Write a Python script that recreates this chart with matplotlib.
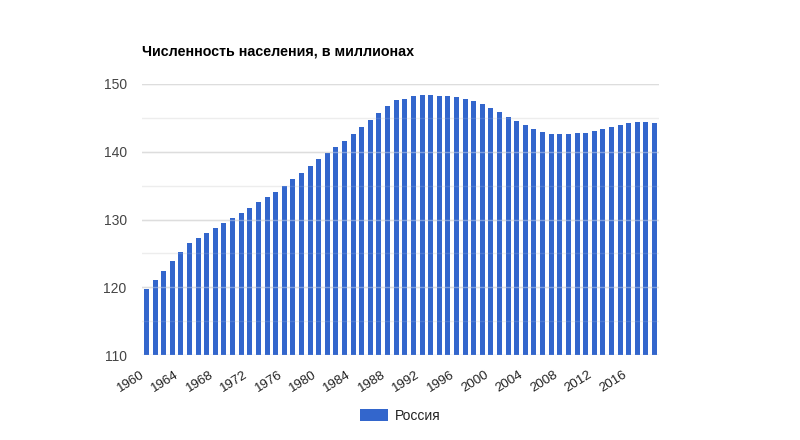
import matplotlib
matplotlib.use("Agg")
import matplotlib.pyplot as plt
from matplotlib.patches import Patch

plt.rcParams['font.family'] = ['Liberation Sans', 'DejaVu Sans']

years = list(range(1960, 2020))
population = [
    119.7, 121.1, 122.4, 123.9, 125.2, 126.5, 127.3, 128.0, 128.7, 129.5,
    130.2, 131.0, 131.7, 132.6, 133.3, 134.1, 134.9, 136.0, 136.9, 137.9,
    138.9, 139.8, 140.7, 141.6, 142.6, 143.65, 144.7, 145.7, 146.75, 147.6,
    147.8, 148.2, 148.4, 148.4, 148.2, 148.2, 148.1, 147.8, 147.5, 147.0,
    146.45, 145.9, 145.1, 144.5, 143.9, 143.3, 142.9, 142.6, 142.6, 142.6,
    142.8, 142.8, 143.06, 143.36, 143.65, 143.9, 144.2, 144.4, 144.4, 144.2,
]
tick_years = list(range(1960, 2020, 4))
title = "Численность населения, в миллионах"
series_name = "Россия"
y_major = [110, 120, 130, 140, 150]
y_minor = [115, 125, 135, 145]

BLUE = "#3366cc"

fig = plt.figure(figsize=(8, 4.4), dpi=100)
ax = fig.add_axes([142/800, 1-355/440, (659-142)/800, (355-84)/440])

x = list(range(len(years)))
ax.bar(x, [p - 110 for p in population], bottom=110, width=0.58, color=BLUE, zorder=2)

ax.set_ylim(110, 150)
ax.set_xlim(-0.52, len(years) - 0.48)

for v in y_minor:
    ax.axhline(v, color="#ebebeb", lw=1, zorder=1)
    ax.axhline(v, color="white", lw=1, alpha=0.12, zorder=3)
for v in y_major:
    ax.axhline(v, color="#cccccc", lw=1, zorder=1)
    ax.axhline(v, color="white", lw=1, alpha=0.35, zorder=3)

ax.set_yticks(y_major)
ax.set_yticklabels([str(v) for v in y_major], fontsize=10, color="#444444")
ax.tick_params(axis='y', length=0, pad=11)

ax.set_xticks([years.index(t) for t in tick_years])
ax.set_xticklabels([str(t) for t in tick_years], rotation=32, ha='right',
                   fontsize=9.5, color="#222222")
ax.tick_params(axis='x', length=0, pad=10)
for lbl in ax.get_xticklabels():
    lbl.set_x(lbl.get_position()[0])

for s in ax.spines.values():
    s.set_visible(False)

fig.text(142/800, 1-52/440, title, fontsize=10.3, fontweight='bold',
         color="#000000", ha='left', va='center')

handle = Patch(facecolor=BLUE, edgecolor='none', label=series_name)
fig.legend(handles=[handle], loc='center', bbox_to_anchor=(0.5, 1-416/440),
           frameon=False, fontsize=10, handlelength=2.0, handleheight=1.0,
           handletextpad=0.5, labelcolor="#222222")

fig.savefig("out.png", dpi=100)
